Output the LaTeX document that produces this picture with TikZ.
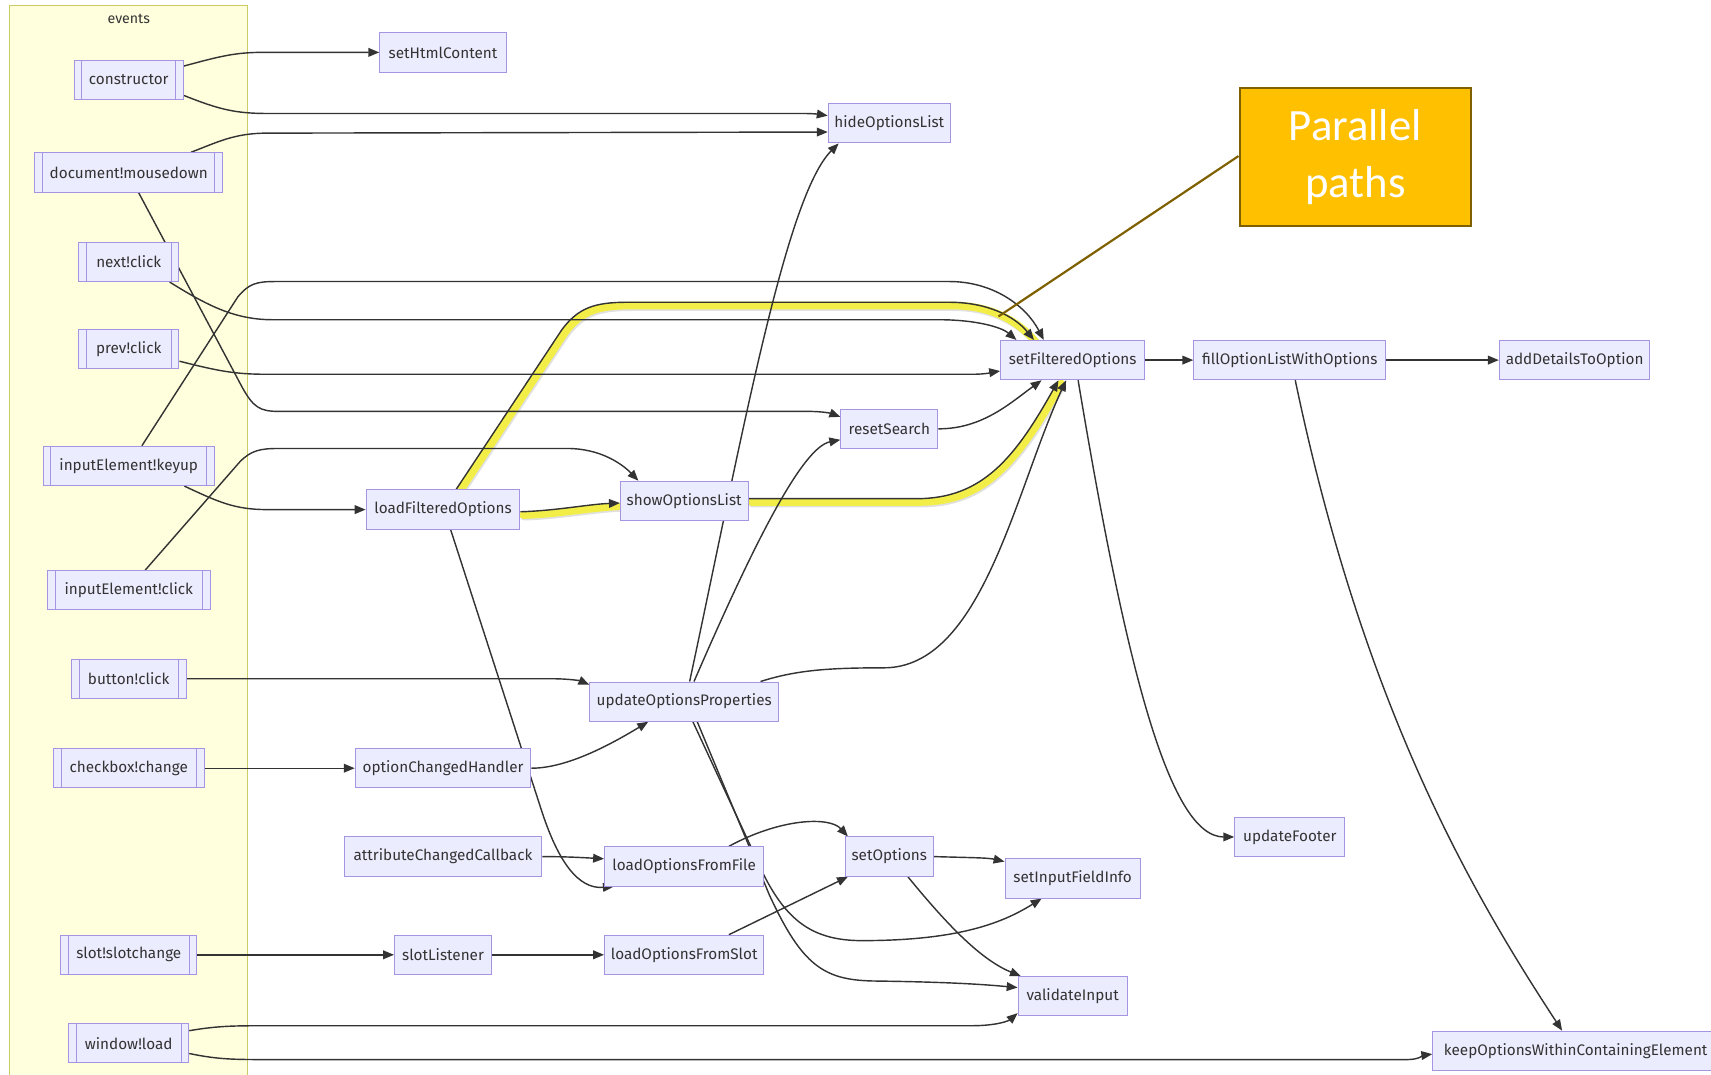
\documentclass[tikz,border=0pt]{standalone}
\usepackage{fontspec}
\setmainfont{Fira Sans}
\newfontfamily\calloutfont{Carlito}
\usetikzlibrary{arrows.meta,calc}

\pgfdeclarelayer{clusterlayer}
\pgfdeclarelayer{edgelayer}
\pgfsetlayers{clusterlayer,edgelayer,main}

\definecolor{nodefill}{HTML}{ECECFF}
\definecolor{nodeline}{HTML}{A494E2}
\definecolor{edgecol}{HTML}{333333}
\definecolor{clusterfill}{HTML}{FFFFDE}
\definecolor{clusterline}{HTML}{CCCC66}
\definecolor{notefill}{HTML}{FFC000}
\definecolor{noteline}{HTML}{7F6000}
\definecolor{glow}{HTML}{F4F03A}

\tikzset{
  fn/.style={draw=nodeline, fill=nodefill, line width=0.9pt, minimum height=36pt,
    inner sep=0pt, text=edgecol, font=\fontsize{14}{16}\selectfont},
  ev/.style={fn, path picture={
      \draw[nodeline, line width=0.9pt]
        ([xshift=7pt]path picture bounding box.north west) -- ([xshift=7pt]path picture bounding box.south west)
        ([xshift=-7pt]path picture bounding box.north east) -- ([xshift=-7pt]path picture bounding box.south east);}},
  conn/.style={draw=edgecol, line width=1.3pt, -{Triangle[length=10pt,width=8pt]}},
  glowline/.style={draw=glow, line width=7pt, line cap=round, opacity=0.92,
    transform canvas={shift={(2.5pt,-3pt)}}},
  glowshade/.style={draw=black, line width=7pt, line cap=round, opacity=0.12,
    transform canvas={shift={(3.5pt,-4.5pt)}}},
  callout/.style={draw=noteline, fill=notefill, line width=2pt, minimum width=212pt,
    minimum height=126pt, text=white, align=center,
    font=\calloutfont\fontsize{41}{52}\selectfont}
}

\begin{document}
\begin{tikzpicture}[x=1pt, y=-1pt]
\useasboundingbox (0,0) rectangle (1568,985);

% event sources cluster
\begin{pgfonlayer}{clusterlayer}
  \draw[clusterline, fill=clusterfill, line width=1pt] (9,5) rectangle (227,995);
  \node[text=edgecol, font=\fontsize{13}{15}\selectfont] (evlabel) at (118,17) {events};
\end{pgfonlayer}

% functions and events
\node[ev, minimum width=100pt] (cons)   at (118,73)  {constructor};
\node[fn, minimum width=116pt] (sethtml) at (406,48) {setHtmlContent};
\node[fn, minimum width=112pt] (hide)   at (815,113) {hideOptionsList};
\node[ev, minimum width=172pt] (docmd)  at (118,158) {document!mousedown};
\node[ev, minimum width=92pt]  (nextc)  at (118,240) {next!click};
\node[ev, minimum width=92pt]  (prevc)  at (118,320) {prev!click};
\node[fn, minimum width=132pt] (sfo)    at (983,330) {setFilteredOptions};
\node[fn, minimum width=176pt] (fill)   at (1182,330) {fillOptionListWithOptions};
\node[fn, minimum width=138pt] (addd)   at (1443,330) {addDetailsToOption};
\node[fn, minimum width=89pt]  (reset)  at (815,393) {resetSearch};
\node[ev, minimum width=157pt] (keyup)  at (118,427) {inputElement!keyup};
\node[fn, minimum width=117pt] (show)   at (627,459) {showOptionsList};
\node[fn, minimum width=141pt] (lfo)    at (406,467) {loadFilteredOptions};
\node[ev, minimum width=149pt] (iclick) at (118,541) {inputElement!click};
\node[ev, minimum width=105pt] (bclick) at (118,622) {button!click};
\node[fn, minimum width=173pt] (uop)    at (627,643) {updateOptionsProperties};
\node[ev, minimum width=138pt] (cbch)   at (118,704) {checkbox!change};
\node[fn, minimum width=161pt] (och)    at (406,704) {optionChangedHandler};
\node[fn, minimum width=181pt] (acc)    at (406,785) {attributeChangedCallback};
\node[fn, minimum width=146pt] (loff)   at (627,794) {loadOptionsFromFile};
\node[fn, minimum width=81pt]  (seto)   at (815,785) {setOptions};
\node[fn, minimum width=124pt] (sifi)   at (983,805) {setInputFieldInfo};
\node[fn, minimum width=101pt] (footer) at (1182,767) {updateFooter};
\node[ev, minimum width=125pt] (slotch) at (118,875) {slot!slotchange};
\node[fn, minimum width=89pt]  (slotl)  at (406,875) {slotListener};
\node[fn, minimum width=146pt] (lofs)   at (627,875) {loadOptionsFromSlot};
\node[fn, minimum width=100pt] (valid)  at (983,913) {validateInput};
\node[ev, minimum width=110pt] (wload)  at (118,956) {window!load};
\node[fn, minimum width=262pt] (keep)   at (1444,963) {keepOptionsWithinContainingElement};

\node[callout] (note) at (1242,144) {Parallel\\paths};
\coordinate (notetip) at (915,290);

\begin{pgfonlayer}{edgelayer}
  % highlighted parallel paths: soft shadow, then the yellow band
  \foreach \hl in {glowshade, glowline} {
    \draw[\hl] ($(lfo.north)+(12,0)$) -- (515,302) .. controls (530,282) and (545,277) .. (575,277)
       -- (870,277) .. controls (905,277) and (930,290) .. ($(sfo.north west)+(31,0)$);
    \draw[\hl] ($(lfo.east)+(0,2)$) .. controls (510,468) and (540,462) .. ($(show.west)+(-4,2)$);
    \draw[\hl] ($(show.east)+(0,-2)$) -- (840,457) .. controls (900,457) and (930,420) .. ($(sfo.south)+(-13,0)$);
  }

  % constructor
  \draw[conn] ($(cons.north east)+(0,6)$) .. controls (200,52) and (215,48) .. (240,48) -- (sethtml.west);
  \draw[conn] ($(cons.south east)+(0,-4)$) .. controls (200,100) and (215,104) .. (245,104)
     -- (735,104) .. controls (748,104) and (752,105) .. ($(hide.west)+(0,-7)$);
  % document!mousedown
  \draw[conn] ($(docmd.north)+(57,0)$) .. controls (200,130) and (215,122) .. (245,122) -- ($(hide.west)+(0,8)$);
  \draw[conn] ($(docmd.south)+(9,0)$) -- (222,355) .. controls (232,373) and (238,377) .. (255,377)
     -- (740,377) .. controls (755,377) and (762,379) .. ($(reset.west)+(0,-11)$);
  % next!click, prev!click
  \draw[conn] ($(nextc.south east)+(-9,0)$) .. controls (190,280) and (215,293) .. (250,293)
     -- (860,293) .. controls (895,293) and (918,300) .. ($(sfo.north west)+(15,0)$);
  \draw[conn] ($(prevc.east)+(0,11)$) .. controls (200,340) and (215,343) .. (245,343)
     -- (890,343) .. controls (905,343) and (910,341) .. ($(sfo.west)+(0,10)$);
  % inputElement!keyup
  \draw[conn] ($(keyup.north)+(12,0)$) -- (218,272) .. controls (228,260) and (235,258) .. (252,258)
     -- (870,258) .. controls (910,258) and (940,280) .. ($(sfo.north west)+(40,0)$);
  \draw[conn] ($(keyup.south east)+(-28,0)$) .. controls (200,460) and (215,467) .. (245,467) -- (lfo.west);
  % inputElement!click
  \draw[conn] ($(iclick.north)+(15,0)$) -- (220,423) .. controls (230,413) and (238,411) .. (255,411)
     -- (520,411) .. controls (550,411) and (570,425) .. ($(show.north west)+(17,0)$);
  % loadFilteredOptions
  \draw[conn] ($(lfo.north)+(12,0)$) -- (515,302) .. controls (530,282) and (545,277) .. (575,277)
     -- (870,277) .. controls (905,277) and (930,290) .. ($(sfo.north west)+(31,0)$);
  \draw[conn] ($(lfo.east)+(0,2)$) .. controls (510,468) and (540,462) .. ($(show.west)+(0,2)$);
  \draw[conn] ($(lfo.south)+(7,0)$) -- (497,745) .. controls (512,790) and (530,815) .. ($(loff.south west)+(9,0)$);
  % showOptionsList, resetSearch
  \draw[conn] ($(show.east)+(0,-2)$) -- (840,457) .. controls (900,457) and (930,420) .. ($(sfo.south)+(-13,0)$);
  \draw[conn] (reset.east) .. controls (900,393) and (925,370) .. ($(sfo.south west)+(38,0)$);
  % button!click
  \draw[conn] (bclick.east) -- (505,622) .. controls (522,622) and (532,624) .. ($(uop.north west)+(0,3)$);
  % updateOptionsProperties
  \draw[conn] ($(uop.north)+(5,0)$) .. controls (680,400) and (720,180) .. ($(hide.south west)+(10,0)$);
  \draw[conn] ($(uop.north)+(9,0)$) .. controls (690,500) and (735,410) .. ($(reset.west)+(0,10)$);
  \draw[conn] ($(uop.north east)+(-17,0)$) .. controls (730,614) and (760,612) .. (810,612)
     .. controls (900,612) and (930,450) .. ($(sfo.south)+(-6,0)$);
  \draw[conn] ($(uop.south)+(8,0)$) -- (690,780) .. controls (715,840) and (740,862) .. (790,862)
     .. controls (880,862) and (920,845) .. ($(sifi.south west)+(34,0)$);
  \draw[conn] ($(uop.south)+(12,0)$) -- (705,820) .. controls (735,885) and (755,898) .. (800,899)
     .. controls (880,900) and (910,903) .. ($(valid.west)+(0,-8)$);
  % checkbox, option handler, attribute callback
  \draw[conn] (cbch.east) -- (och.west);
  \draw[conn] (och.east) .. controls (520,704) and (560,682) .. ($(uop.south west)+(54,0)$);
  \draw[conn] (acc.east) .. controls (520,785) and (535,786) .. ($(loff.west)+(0,-7)$);
  % option loading
  \draw[conn] ($(loff.north)+(41,0)$) .. controls (715,750) and (760,748) .. ($(seto.north west)+(3,0)$);
  \draw[conn] (seto.east) .. controls (890,786) and (905,786) .. ($(sifi.north west)+(0,3)$);
  \draw[conn] ($(seto.south)+(17,0)$) .. controls (870,850) and (900,880) .. ($(valid.north west)+(3,0)$);
  \draw[conn] (slotch.east) -- (slotl.west);
  \draw[conn] (slotl.east) -- (lofs.west);
  \draw[conn] ($(lofs.north)+(41,0)$) -- ($(seto.south west)+(3,0)$);
  % window!load
  \draw[conn] ($(wload.north east)+(0,7)$) .. controls (200,940) and (215,940) .. (245,940)
     -- (890,940) .. controls (915,940) and (925,935) .. ($(valid.south west)+(0,-3)$);
  \draw[conn] ($(wload.south east)+(0,-9)$) .. controls (200,971) and (215,971) .. (245,971)
     -- (1290,971) .. controls (1300,971) and (1305,967) .. ($(keep.west)+(0,3)$);
  % filtered options chain
  \draw[conn] (sfo.east) -- (fill.west);
  \draw[conn] (fill.east) -- (addd.west);
  \draw[conn] ($(sfo.south)+(5,0)$) .. controls (1030,600) and (1070,767) .. (footer.west);
  \draw[conn] ($(fill.south)+(5,0)$) .. controls (1250,650) and (1350,820) .. ($(keep.north west)+(119,0)$);
\end{pgfonlayer}

% callout pointer
\draw[noteline, line width=2pt] ($(note.west)+(0,-1)$) -- (notetip);
\end{tikzpicture}
\end{document}
